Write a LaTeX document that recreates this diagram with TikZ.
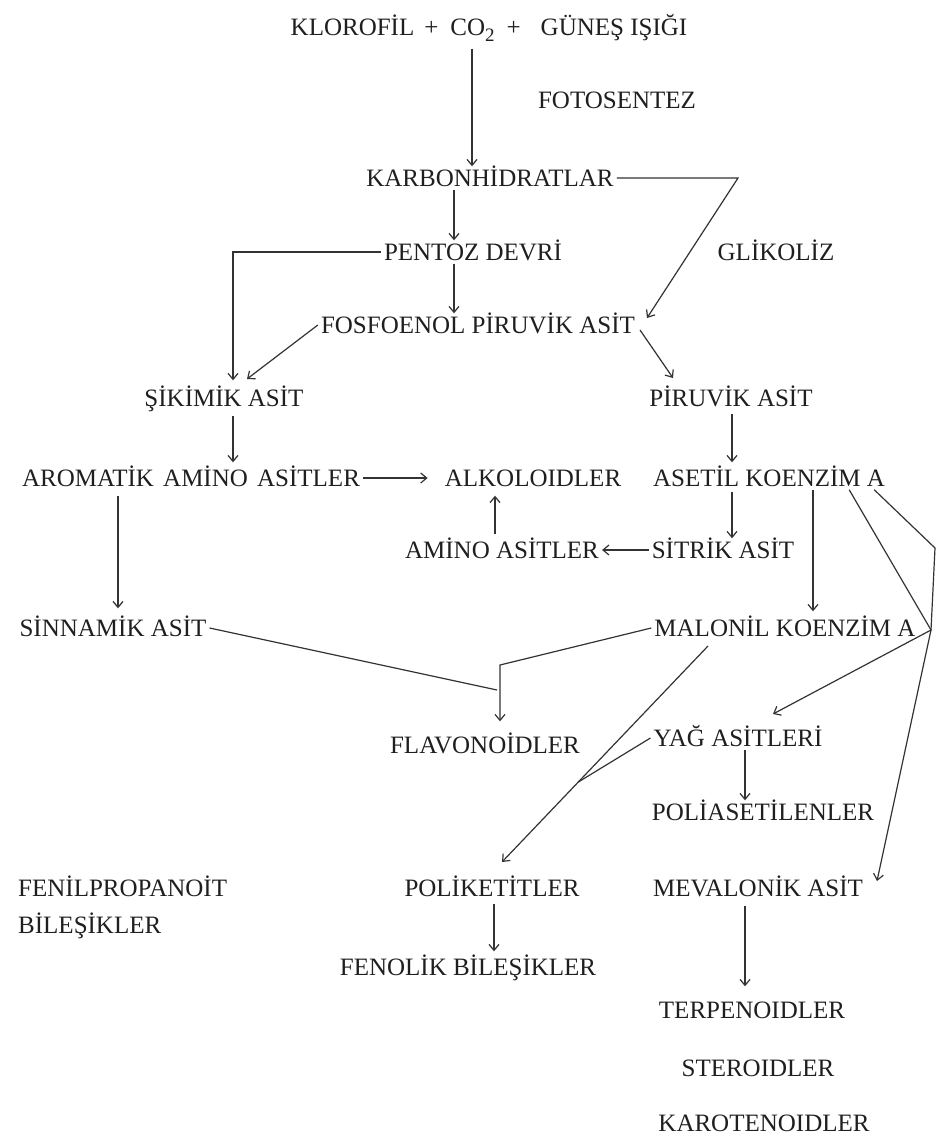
\documentclass[tikz,border=0pt]{standalone}
\usepackage{fontspec}
\setmainfont{Liberation Serif}
\usetikzlibrary{arrows.meta,calc}
\begin{document}
\begin{tikzpicture}[x=1pt,y=-1pt,
  lbl/.style={inner sep=3pt, text height=17pt, text depth=0pt, font=\fontsize{25}{30}\selectfont, text=black!88},
  con/.style={line width=1.2pt, draw=black!80},
  arr/.style={con, -{Straight Barb[length=6pt,width=10pt]}}]
\useasboundingbox[fill=white] (0,0) rectangle (936,1137);
% nodes
\node[lbl] (top) at (489,27) {KLOROFİL\hspace{10pt}+\hspace{12pt}CO\raisebox{-6pt}{\fontsize{19}{20}\selectfont 2}\hspace{12pt}+\hspace{20pt}GÜNEŞ IŞIĞI};
\node[lbl] (foto) at (617,100) {FOTOSENTEZ};
\node[lbl] (karb) at (490,178) {KARBONHİDRATLAR};
\node[lbl] (pentoz) at (473,252) {PENTOZ DEVRİ};
\node[lbl] (glik) at (776,252) {GLİKOLİZ};
\node[lbl] (pep) at (478,325) {FOSFOENOL PİRUVİK ASİT};
\node[lbl] (sik) at (224,398) {ŞİKİMİK ASİT};
\node[lbl] (piruvik) at (731,398) {PİRUVİK ASİT};
\node[lbl] (arom) at (191,478) {AROMATİK\hspace{3pt} AMİNO\hspace{3pt} ASİTLER};
\node[lbl] (alk) at (533,478) {ALKOLOIDLER};
\node[lbl] (asetil) at (769,478) {ASETİL KOENZİM A};
\node[lbl] (amino) at (502,550) {AMİNO ASİTLER};
\node[lbl] (sitrik) at (723,550) {SİTRİK ASİT};
\node[lbl] (sinn) at (113,628) {SİNNAMİK ASİT};
\node[lbl] (malonil) at (785,628) {MALONİL KOENZİM A};
\node[lbl] (flav) at (485,745) {FLAVONOİDLER};
\node[lbl] (yag) at (738,738) {YAĞ ASİTLERİ};
\node[lbl] (polias) at (763,812) {POLİASETİLENLER};
\node[lbl,anchor=west] (fenil1) at (15,888) {FENİLPROPANOİT};
\node[lbl,anchor=west] (fenil2) at (15,925) {BİLEŞİKLER};
\node[lbl] (polik) at (492,888) {POLİKETİTLER};
\node[lbl] (mev) at (758,888) {MEVALONİK ASİT};
\node[lbl] (fenol) at (468,967) {FENOLİK BİLEŞİKLER};
\node[lbl] (terp) at (752,1010) {TERPENOIDLER};
\node[lbl] (ster) at (758,1068) {STEROIDLER};
\node[lbl] (karot) at (764,1123) {KAROTENOIDLER};
% helper coordinates
\coordinate (k1) at (738,178);
\coordinate (p1) at (233,252);
\coordinate (glt) at (647,318);
\coordinate (pepr) at (640,330);
\coordinate (pirt) at (673,378);
\coordinate (sikt) at (247,379);
\coordinate (fj1) at (497,690);
\coordinate (fj2) at (500,665);
\coordinate (hub) at (931,630);
\coordinate (edge) at (935,548);
\coordinate (m1) at (708,646);
\coordinate (m2) at (502,862);
\coordinate (yagt) at (773,714);
\coordinate (mevt) at (877,881);
% connectors
\draw[arr, shorten <=10pt] (top.south -| 472,0) -- (karb.north -| 472,0);
\draw[arr] (karb.south -| 454,0) -- (pentoz.north -| 454,0);
\draw[arr] (karb.east) -- (k1) -- (glt);
\draw[arr] (pentoz.west) -- (p1) -- ([yshift=6pt]sik.north -| p1);
\draw[arr] (pentoz.south -| 454,0) -- (pep.north -| 454,0);
\draw[arr] (pep.west) -- (sikt);
\draw[arr] (pepr) -- (pirt);
\draw[arr, shorten <=6pt, shorten >=4pt] (sik.south -| 233,0) -- (arom.north -| 233,0);
\draw[arr, shorten <=4pt, shorten >=4pt] (piruvik.south -| 732,0) -- (asetil.north -| 732,0);
\draw[arr, shorten >=14pt] (arom.east) -- (alk.west);
\draw[arr, shorten <=2pt] (asetil.south -| 732,0) -- (sitrik.north -| 732,0);
\draw[arr] (sitrik.west) -- (amino.east);
\draw[arr, shorten <=4pt, shorten >=6pt] (amino.north -| 495,0) -- (alk.south -| 495,0);
\draw[arr, shorten <=6pt, shorten >=8pt] (arom.south -| 118,0) -- (sinn.north -| 118,0);
\draw[arr, shorten >=5pt] (asetil.south -| 813,0) -- (malonil.north -| 813,0);
\draw[con] (sinn.east) -- (fj1);
\draw[arr, shorten >=12pt] (malonil.west) -- (fj2) -- (flav.north -| fj2);
\draw[arr] (m1) -- (m2);
\draw[con] (yag.west) -- ($(m1)!0.63!(m2)$);
\draw[arr] (yag.south -| 745,0) -- (polias.north -| 745,0);
\draw[con] ([xshift=-39pt]asetil.south east) -- (hub);
\draw[con] ([xshift=-14pt]asetil.south east) -- (edge) -- (hub);
\draw[arr] (hub) -- (yagt);
\draw[arr] (hub) -- (mevt);
\draw[arr, shorten <=6pt, shorten >=12pt] (mev.south -| 745,0) -- (terp.north -| 745,0);
\draw[arr, shorten <=4pt, shorten >=4pt] (polik.south -| 494,0) -- (fenol.north -| 494,0);
\end{tikzpicture}
\end{document}
